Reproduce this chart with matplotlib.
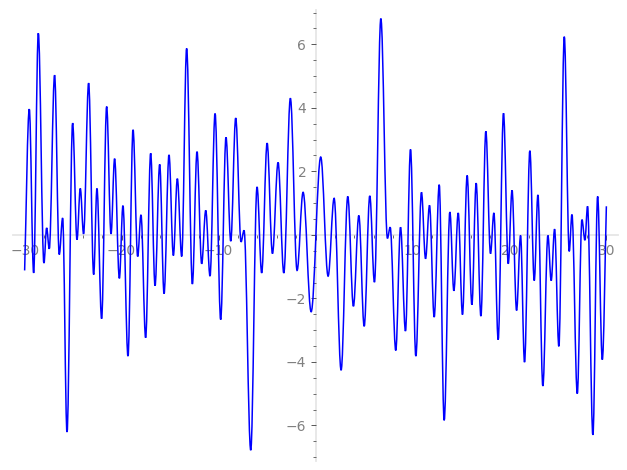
import matplotlib
matplotlib.use("Agg")
import matplotlib.pyplot as plt
from matplotlib.path import Path
from matplotlib.patches import PathPatch
from matplotlib.ticker import MultipleLocator, FuncFormatter

# Turning points of the curve (x, y)
x_pts = [-30.0, -29.52, -29.07, -28.59, -28.01, -27.73, -27.46, -26.91, -26.43, -26.08,
         -25.63, -25.05, -24.60, -24.26, -23.92, -23.40, -22.88, -22.54, -22.06, -21.54,
         -21.09, -20.72, -20.23, -19.86, -19.34, -18.82, -18.34, -18.00, -17.52, -17.00,
         -16.55, -16.07, -15.62, -15.11, -14.66, -14.25, -13.80, -13.29, -12.70, -12.22,
         -11.74, -11.32, -10.88, -10.36, -9.78, -9.23, -8.74, -8.23, -7.68, -7.37,
         -6.68, -6.03, -5.55, -4.99, -4.44, -3.86, -3.27, -2.59, -1.90, -1.28,
         -0.45, 0.54, 1.30, 1.92, 2.64, 3.33, 3.91, 4.47, 5.02, 5.60,
         6.08, 6.74, 7.42, 7.70, 8.28, 8.77, 9.28, 9.80, 10.35, 10.93,
         11.35, 11.76, 12.24, 12.76, 13.27, 13.86, 14.27, 14.72, 15.16, 15.64,
         16.13, 16.57, 17.06, 17.57, 18.05, 18.40, 18.84, 19.39, 19.88, 20.27,
         20.74, 21.15, 21.56, 22.11, 22.56, 22.94, 23.45, 23.97, 24.31, 24.66,
         25.10, 25.66, 26.17, 26.45, 27.00, 27.48, 27.79, 28.06, 28.61, 29.10,
         29.58, 30.0]
y_pts = [-1.12, 3.96, -1.20, 6.35, -0.89, 0.22, -0.44, 5.03, -0.62, 0.53,
         -6.21, 3.52, -0.15, 1.46, 0.03, 4.78, -1.25, 1.46, -2.64, 4.04,
         0.03, 2.40, -1.37, 0.92, -3.82, 3.31, -0.68, 0.63, -3.24, 2.57,
         -1.60, 2.22, -1.85, 2.52, -0.65, 1.77, -0.68, 5.87, -1.55, 2.62,
         -0.91, 0.77, -1.30, 3.82, -2.67, 3.07, -0.20, 3.68, -0.22, 0.14,
         -6.78, 1.51, -1.20, 2.89, -0.59, 2.28, -1.20, 4.30, -1.12, 1.34,
         -2.42, 2.45, -1.30, 1.15, -4.26, 1.21, -2.25, 0.61, -2.88, 1.23,
         -1.49, 6.81, -0.11, 0.24, -3.64, 0.24, -3.03, 2.69, -3.82, 1.34,
         -0.75, 0.93, -2.59, 1.58, -5.84, 0.72, -1.76, 0.69, -2.51, 1.87,
         -2.20, 1.63, -2.56, 3.26, -0.59, 0.69, -3.30, 3.83, -0.91, 1.40,
         -2.38, -0.02, -4.01, 2.65, -1.44, 1.26, -4.76, -0.02, -1.44, 0.18,
         -3.51, 6.24, -0.52, 0.64, -5.00, 0.48, -0.17, 0.90, -6.30, 1.21,
         -3.93, 0.90]

x_major = [-30, -20, -10, 0, 10, 20, 30]
y_major = [-6, -4, -2, 0, 2, 4, 6]

fig = plt.figure(figsize=(6.27, 4.70), dpi=100)
ax = fig.add_axes([13 / 627, 1 - 461 / 470, (618 - 13) / 627, (461 - 10) / 470])

# smooth curve through the turning points (horizontal tangents at extrema)
k = 0.364
verts = [(x_pts[0], y_pts[0])]
codes = [Path.MOVETO]
n = len(x_pts)
for i in range(n - 1):
    x0, y0, x1, y1 = x_pts[i], y_pts[i], x_pts[i + 1], y_pts[i + 1]
    dx = x1 - x0
    if i == 0:
        c1 = (x0 + dx / 3, y0 + (y1 - y0) / 3)
    else:
        c1 = (x0 + k * dx, y0)
    if i == n - 2:
        c2 = (x1 - dx / 3, y1 - (y1 - y0) / 3)
    else:
        c2 = (x1 - k * dx, y1)
    verts += [c1, c2, (x1, y1)]
    codes += [Path.CURVE4] * 3
patch = PathPatch(Path(verts, codes), facecolor="none", edgecolor="#0000ff",
                  linewidth=1.1, transform=ax.transData, zorder=5)
ax.add_patch(patch)

ax.set_xlim(-31.2, 31.2)
ax.set_ylim(-7.12, 7.08)

for s in ("top", "right"):
    ax.spines[s].set_visible(False)
ax.spines["left"].set_position(("data", 0))
ax.spines["bottom"].set_position(("data", 0))
for s in ("left", "bottom"):
    ax.spines[s].set_color("#e6e6e6")
    ax.spines[s].set_linewidth(1.3)
    ax.spines[s].set_zorder(1)

ax.set_xticks(x_major)
ax.set_yticks(y_major)
ax.xaxis.set_minor_locator(MultipleLocator(2))
ax.yaxis.set_minor_locator(MultipleLocator(0.5))
fmt = FuncFormatter(lambda v, p: "" if abs(v) < 1e-9 else ("\u2212%d" % abs(v) if v < 0 else "%d" % v))
ax.xaxis.set_major_formatter(fmt)
ax.yaxis.set_major_formatter(fmt)
ax.tick_params(which="major", direction="out", length=3.6, width=0.7,
               color="#555555", labelcolor="#808080", labelsize=10, pad=3)
ax.tick_params(which="minor", direction="out", length=2, width=0.6, color="#555555")
ax.patch.set_visible(False)

fig.savefig("out.png", dpi=100)
